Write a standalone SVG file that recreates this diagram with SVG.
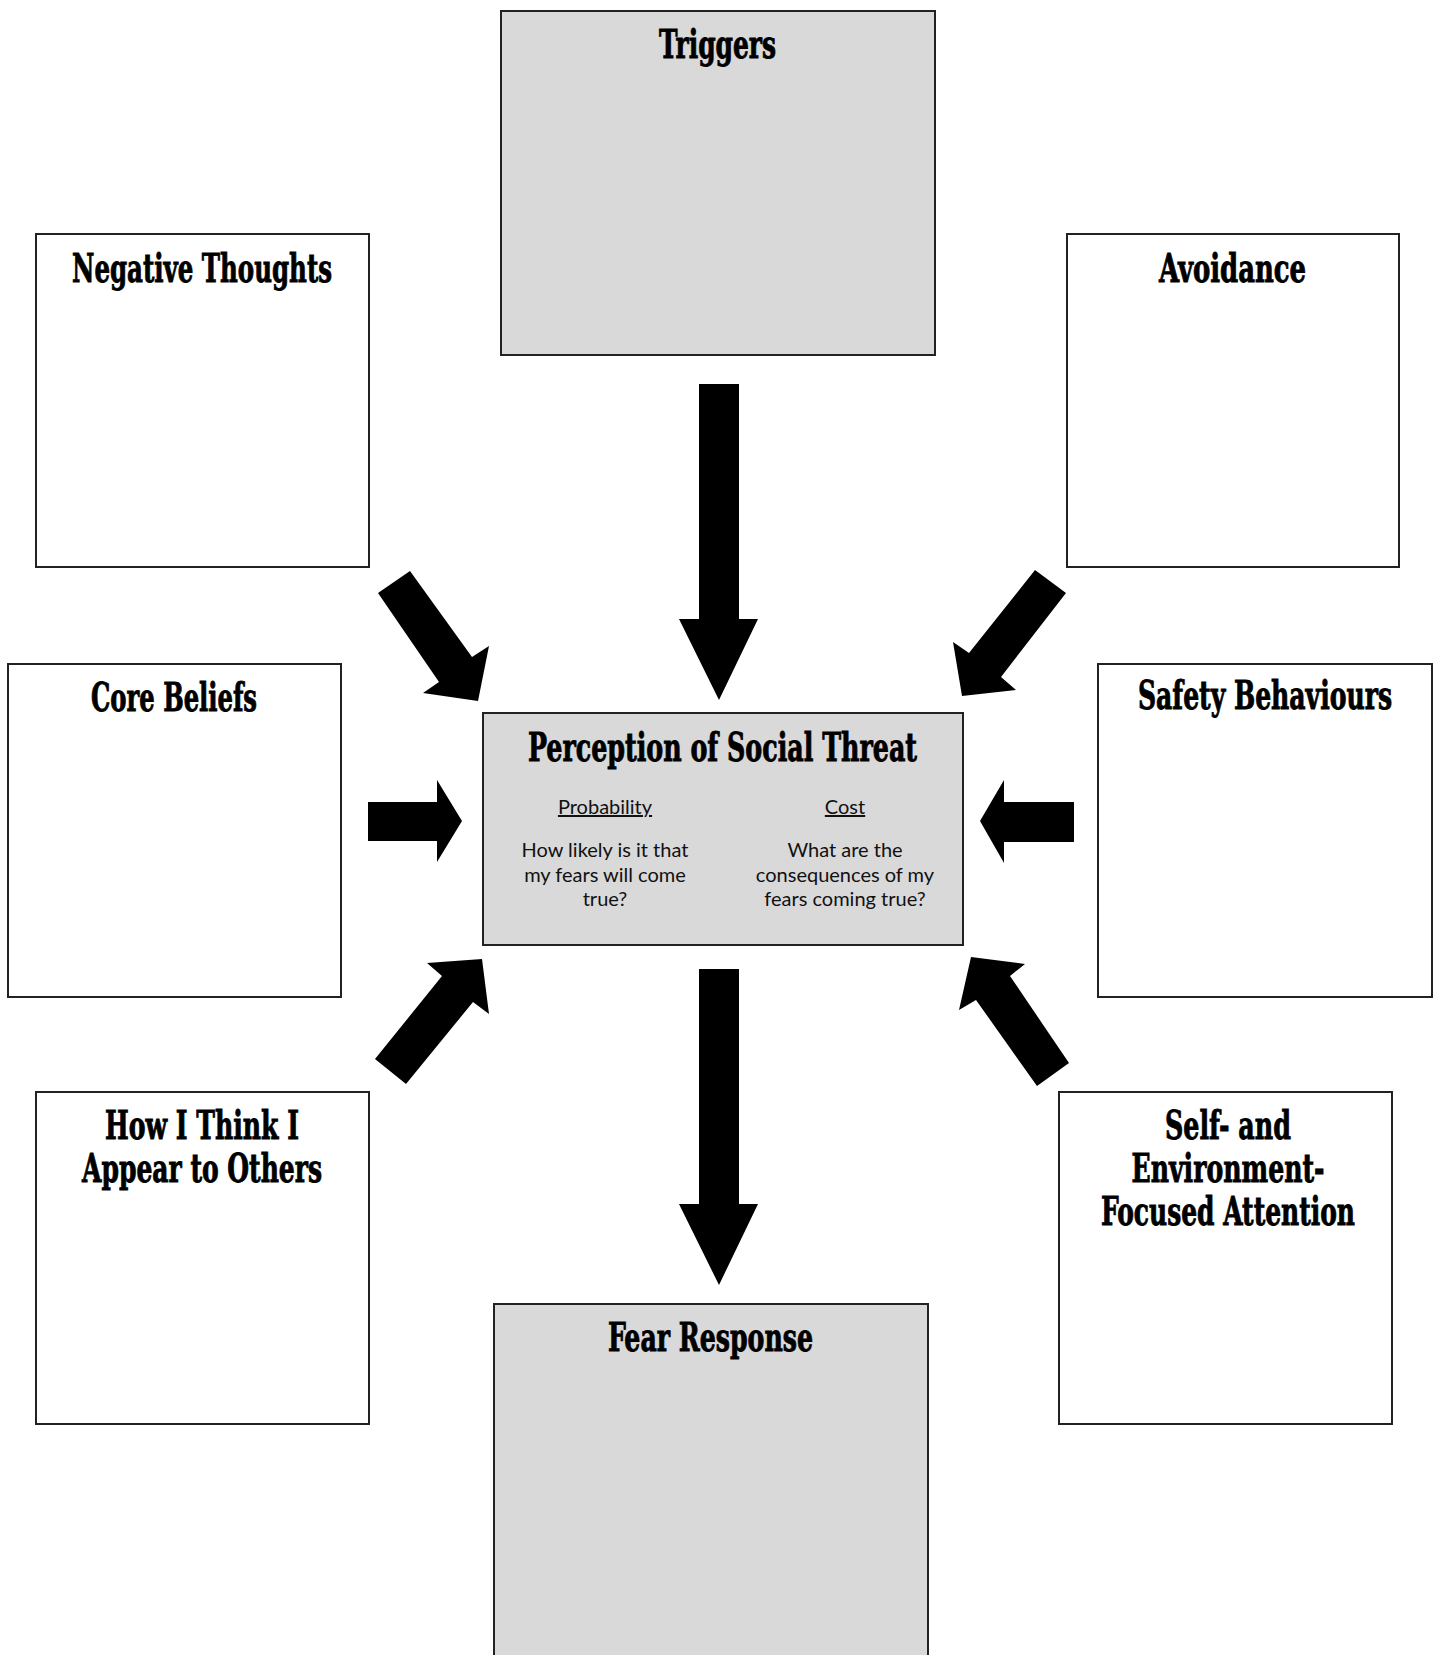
<svg xmlns="http://www.w3.org/2000/svg" width="1438" height="1655" viewBox="0 0 1438 1655">
<style>
.box{fill:#ffffff;stroke:#222222;stroke-width:2}
.grey{fill:#d9d9d9;stroke:#222222;stroke-width:2}
.title{font-family:"DejaVu Serif","Liberation Serif",serif;font-weight:bold;font-stretch:condensed;font-size:32px;fill:#000000;stroke:#000000;stroke-width:0.7;text-anchor:middle}
.body{font-family:Lato,"Open Sans","Liberation Sans",sans-serif;font-size:20px;fill:#111111;text-anchor:middle}
.u{text-decoration:underline}
.arrow{fill:#000000;stroke:none}
</style>
<rect width="1438" height="1655" fill="#ffffff"/>
<g id="connectors">
<polygon class="arrow" points="699,384 739,384 739,619 758,619 719,700 679,619 699,619"/>
<polygon class="arrow" points="699,969 739,969 739,1204 758,1204 719,1285 679,1204 699,1204"/>
<polygon class="arrow" points="368,802 437,802 437,780 462,821 437,862 437,841 368,841"/>
<polygon class="arrow" points="1074,802 1004,802 1004,780 980,821 1004,863 1004,842 1074,842"/>
<polygon class="arrow" points="378,593 410,571 472,657 489,646 478,701 423,693 439,682"/>
<polygon class="arrow" points="1035,570 1066,593 1001,677 1016,690 962,696 953,642 969,653"/>
<polygon class="arrow" points="375,1059 406,1084 473,1002 489,1014 482,959 427,963 442,976"/>
<polygon class="arrow" points="971,957 1025,964 1010,976 1069,1063 1037,1086 976,1000 959,1010"/>
</g>
<g id="triggers">
<rect class="grey" x="501" y="11" width="434" height="344"/>
<text class="title" transform="translate(717.5,58) scale(1,1.22)" textLength="117" lengthAdjust="spacingAndGlyphs">Triggers</text>
</g>
<g id="negative-thoughts">
<rect class="box" x="36" y="234" width="333" height="333"/>
<text class="title" transform="translate(202,282) scale(1,1.22)" textLength="260" lengthAdjust="spacingAndGlyphs">Negative Thoughts</text>
</g>
<g id="avoidance">
<rect class="box" x="1067" y="234" width="332" height="333"/>
<text class="title" transform="translate(1232.5,282) scale(1,1.22)" textLength="147" lengthAdjust="spacingAndGlyphs">Avoidance</text>
</g>
<g id="core-beliefs">
<rect class="box" x="8" y="664" width="333" height="333"/>
<text class="title" transform="translate(174,711) scale(1,1.22)" textLength="166" lengthAdjust="spacingAndGlyphs">Core Beliefs</text>
</g>
<g id="safety-behaviours">
<rect class="box" x="1098" y="664" width="334" height="333"/>
<text class="title" transform="translate(1265,709) scale(1,1.22)" textLength="254" lengthAdjust="spacingAndGlyphs">Safety Behaviours</text>
</g>
<g id="perception">
<rect class="grey" x="483" y="713" width="480" height="232"/>
<text class="title" transform="translate(722.5,761) scale(1,1.22)" textLength="389" lengthAdjust="spacingAndGlyphs">Perception of Social Threat</text>
<text class="body u" x="605" y="814">Probability</text>
<text class="body u" x="845" y="814">Cost</text>
<text class="body" x="605" y="857">How likely is it that</text>
<text class="body" x="605" y="882">my fears will come</text>
<text class="body" x="605" y="906">true?</text>
<text class="body" x="845" y="857">What are the</text>
<text class="body" x="845" y="882">consequences of my</text>
<text class="body" x="845" y="906">fears coming true?</text>
</g>
<g id="how-i-appear">
<rect class="box" x="36" y="1092" width="333" height="332"/>
<text class="title" transform="translate(202,1139) scale(1,1.22)" textLength="194" lengthAdjust="spacingAndGlyphs">How I Think I</text>
<text class="title" transform="translate(202,1182) scale(1,1.22)" textLength="240" lengthAdjust="spacingAndGlyphs">Appear to Others</text>
</g>
<g id="self-environment-attention">
<rect class="box" x="1059" y="1092" width="333" height="332"/>
<text class="title" transform="translate(1228,1139) scale(1,1.22)" textLength="126" lengthAdjust="spacingAndGlyphs">Self- and</text>
<text class="title" transform="translate(1228,1182) scale(1,1.22)" textLength="193" lengthAdjust="spacingAndGlyphs">Environment-</text>
<text class="title" transform="translate(1228,1225) scale(1,1.22)" textLength="254" lengthAdjust="spacingAndGlyphs">Focused Attention</text>
</g>
<g id="fear-response">
<rect class="grey" x="494" y="1304" width="434" height="370"/>
<text class="title" transform="translate(710.5,1351) scale(1,1.22)" textLength="205" lengthAdjust="spacingAndGlyphs">Fear Response</text>
</g>
</svg>
